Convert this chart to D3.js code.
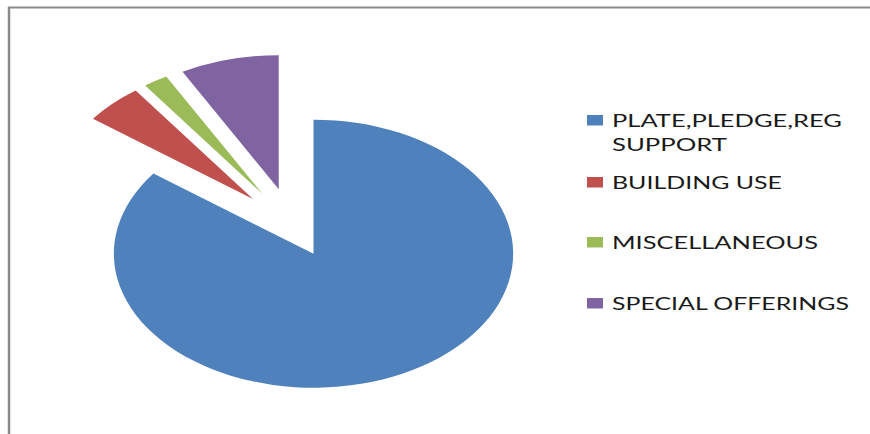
<!DOCTYPE html>
<html>
<head>
<meta charset="utf-8">
<script src="https://cdn.jsdelivr.net/npm/d3@7.9.0/dist/d3.min.js"></script>
<style>
  html, body { margin: 0; padding: 0; background: #fff; }
  svg { display: block; }
  .legend text { font-family: Lato, "Open Sans", sans-serif; font-size: 18px; fill: #1a1a1a; }
</style>
</head>
<body>
<svg id="chart" width="870" height="434"></svg>
<script>
// data (percent of total)
const categories = ['PLATE,PLEDGE,REG SUPPORT', 'BUILDING USE', 'MISCELLANEOUS', 'SPECIAL OFFERINGS'];
const values = [85.2, 4.8, 2.0, 8.0];
const legendLines = [['PLATE,PLEDGE,REG', 'SUPPORT'], ['BUILDING USE'], ['MISCELLANEOUS'], ['SPECIAL OFFERINGS']];

const colors = d3.scaleOrdinal()
    .domain(categories)
    .range(['#4f81bd', '#c0504d', '#9bbb59', '#8064a2']);

// how far each slice is pulled out of the pie (unstretched px)
const explode = [31, 38, 38, 38];

const svg = d3.select('#chart');

// frame: only the top and left edges show in the picture
svg.append('line')
    .attr('x1', 8).attr('y1', 7.5).attr('x2', 870).attr('y2', 7.5)
    .attr('stroke', '#8a8a8a').attr('stroke-width', 2);
svg.append('line')
    .attr('x1', 9).attr('y1', 7).attr('x2', 9).attr('y2', 434)
    .attr('stroke', '#8a8a8a').attr('stroke-width', 2.5);

// the original picture is stretched sideways, so the pie is an ellipse
const stretch = 1.49;
const radius = 134;
const pieGroup = svg.append('g')
    .attr('transform', `translate(292.8,226) scale(${stretch},1)`);

const pie = d3.pie().sort(null).value((d) => d);
const arcGenerator = d3.arc().innerRadius(0).outerRadius(radius);

pie(values).forEach((d, i) => {
    const mid = (d.startAngle + d.endAngle) / 2;
    const dx = Math.sin(mid) * explode[i];
    const dy = -Math.cos(mid) * explode[i];
    pieGroup.append('path')
        .attr('d', arcGenerator(d))
        .attr('transform', `translate(${dx},${dy})`)
        .attr('fill', colors(categories[i]));
});

// legend
const legend = svg.append('g').attr('class', 'legend');
const rowTop = [115, 177, 237, 298];
const lineWidths = [[230, 115], [170], [206], [237]];

categories.forEach((c, i) => {
    legend.append('rect')
        .attr('x', 587).attr('y', rowTop[i])
        .attr('width', 16).attr('height', 10.5)
        .attr('fill', colors(c));
    legendLines[i].forEach((line, j) => {
        legend.append('text')
            .attr('x', 612)
            .attr('y', rowTop[i] + 12 + j * 23.5)
            .attr('textLength', lineWidths[i][j])
            .attr('lengthAdjust', 'spacingAndGlyphs')
            .text(line);
    });
});
</script>
</body>
</html>
